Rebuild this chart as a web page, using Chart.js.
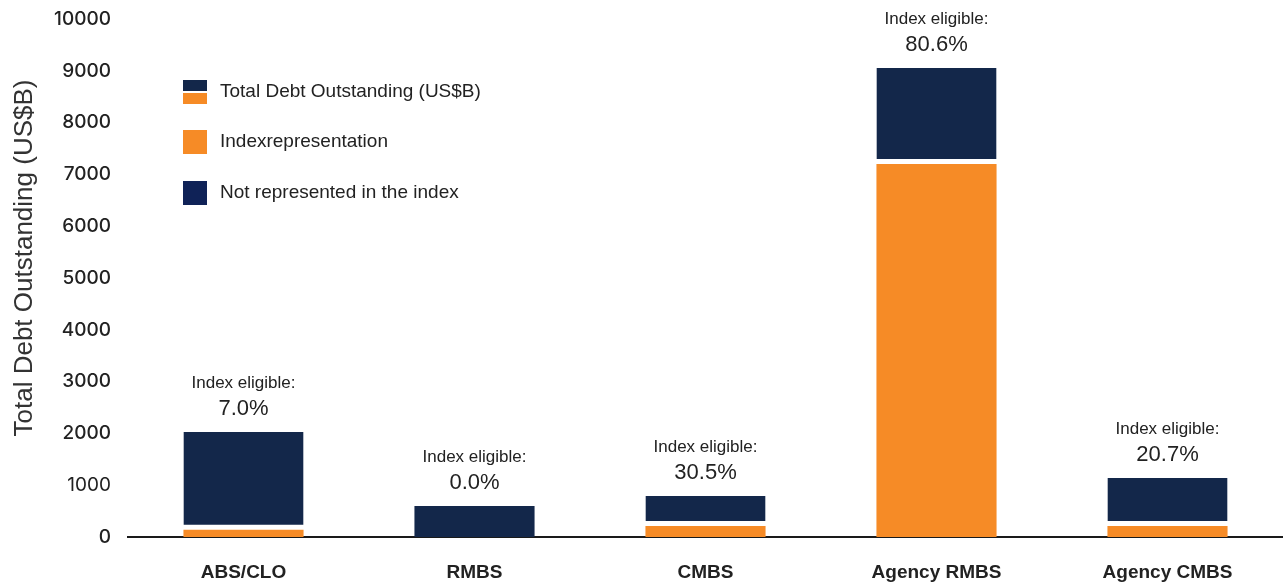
<!DOCTYPE html>
<html>
<head>
<meta charset="utf-8">
<script src="https://cdn.jsdelivr.net/npm/chart.js@4.4.1/dist/chart.umd.min.js"></script>
<style>
  html, body { margin: 0; padding: 0; background: #fff; }
  #wrap { width: 1283px; height: 584px; position: relative; }
</style>
</head>
<body>
<div id="wrap"><canvas id="chart-area"></canvas></div>
<script>
// data (US$B)
var categories = ['ABS/CLO', 'RMBS', 'CMBS', 'Agency RMBS', 'Agency CMBS'];
var indexRepresentation = [140, 0, 212, 7200, 212];
var notRepresented = [1887, 600, 580, 1854, 928];
var eligibleLabels = ['7.0%', '0.0%', '30.5%', '80.6%', '20.7%'];
var legendLabels = ['Total Debt Outstanding (US$B)', 'Indexrepresentation', 'Not represented in the index'];
var yTitle = 'Total Debt Outstanding (US$B)';

var NAVY = '#13274a';
var ORANGE = '#f68b26';
var FONT = "'Liberation Sans', Arial, sans-serif";
var TICKFONT = "Inter, 'Liberation Sans', sans-serif";

// "Index eligible" labels above each bar
var eligiblePlugin = {
  id: 'eligible',
  afterDatasetsDraw: function(chart) {
    var ctx = chart.ctx;
    var meta = chart.getDatasetMeta(1);
    ctx.save();
    ctx.fillStyle = '#222';
    ctx.textAlign = 'center';
    ctx.textBaseline = 'middle';
    meta.data.forEach(function(bar, i) {
      ctx.font = '17px ' + FONT;
      ctx.fillText('Index eligible:', bar.x, bar.y - 49);
      ctx.font = '22px ' + FONT;
      ctx.fillText(eligibleLabels[i], bar.x, bar.y - 23);
    });
    ctx.restore();
  }
};

// legend drawn inside the plot, top left
var legendPlugin = {
  id: 'customLegend',
  afterDraw: function(chart) {
    var ctx = chart.ctx;
    var x = 183, w = 24, h = 24;
    var ys = [80, 130, 181];
    ctx.save();
    // total: navy over orange
    ctx.fillStyle = NAVY;
    ctx.fillRect(x, ys[0], w, 11);
    ctx.fillStyle = ORANGE;
    ctx.fillRect(x, ys[0] + 13, w, 11);
    ctx.fillStyle = ORANGE;
    ctx.fillRect(x, ys[1], w, h);
    ctx.fillStyle = '#0f2257';
    ctx.fillRect(x, ys[2], w, h);
    ctx.fillStyle = '#222';
    ctx.font = '19px ' + FONT;
    ctx.textBaseline = 'middle';
    ctx.textAlign = 'left';
    legendLabels.forEach(function(t, i) {
      ctx.fillText(t, 220, ys[i] + 12);
    });
    ctx.restore();
  }
};

// y axis title, placed like the original
var yTitlePlugin = {
  id: 'yTitle',
  afterDraw: function(chart) {
    var ctx = chart.ctx;
    ctx.save();
    ctx.translate(25, 258);
    ctx.rotate(-Math.PI / 2);
    ctx.fillStyle = '#333';
    ctx.font = '26px ' + FONT;
    ctx.textAlign = 'center';
    ctx.textBaseline = 'middle';
    ctx.fillText(yTitle, 0, 0);
    ctx.restore();
  }
};

var config = {
  type: 'bar',
  data: {
    labels: categories,
    datasets: [{
      label: 'Indexrepresentation',
      data: indexRepresentation,
      backgroundColor: ORANGE,
      borderWidth: 0
    }, {
      label: 'Not represented in the index',
      data: notRepresented,
      backgroundColor: NAVY,
      borderColor: '#ffffff',
      borderSkipped: false,
      borderWidth: function(c) {
        return indexRepresentation[c.dataIndex] > 0 ? {top: 0, left: 0, right: 0, bottom: 5} : 0;
      }
    }]
  },
  options: {
    responsive: true,
    maintainAspectRatio: false,
    animation: false,
    barPercentage: 0.52,
    categoryPercentage: 1.0,
    layout: { padding: { top: 19, left: 0, right: 0, bottom: 0 } },
    plugins: {
      legend: { display: false },
      tooltip: { enabled: false }
    },
    scales: {
      x: {
        stacked: true,
        z: 1,
        grid: { display: false },
        border: { display: true, color: '#1a1a1a', width: 2 },
        ticks: {
          color: '#222',
          padding: 16,
          font: { family: FONT, size: 19, weight: 'bold' }
        },
        afterFit: function(s) { s.height = 47; }
      },
      y: {
        stacked: true,
        min: 0,
        max: 10000,
        grid: { display: false, drawTicks: false },
        border: { display: false },
        ticks: {
          stepSize: 1000,
          color: '#222',
          padding: 17,
          callback: function(v) { return String(v); },
          font: function(c) {
            var v = c.tick ? c.tick.value : 0;
            return { family: TICKFONT, size: 19, weight: v === 1000 ? '400' : '500' };
          }
        },
        afterFit: function(s) {
          s.width = 128;
          s.paddingTop = 0;
          s.paddingBottom = 0;
        }
      }
    }
  },
  plugins: [eligiblePlugin, legendPlugin, yTitlePlugin]
};

window.onload = function() {
  var ctx = document.getElementById('chart-area').getContext('2d');
  window.myBar = new Chart(ctx, config);
};
</script>
</body>
</html>
